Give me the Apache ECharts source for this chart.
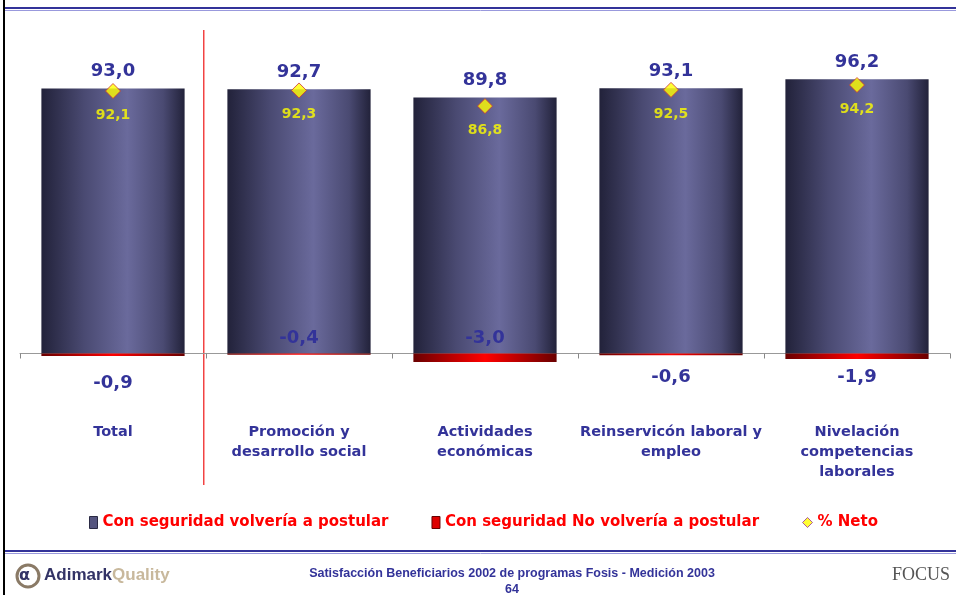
<!DOCTYPE html>
<html><head><meta charset="utf-8">
<script src="https://cdn.jsdelivr.net/npm/echarts@6/dist/echarts.min.js"></script>
<style>html,body{margin:0;padding:0;background:#fff}#c{width:956px;height:595px}</style>
</head><body><div id="c"></div>
<script>
const categories = ['Total', 'Promoción y\ndesarrollo social', 'Actividades\neconómicas', 'Reinservicón laboral y\nempleo', 'Nivelación\ncompetencias\nlaborales'];
const volveria = [93.0, 92.7, 89.8, 93.1, 96.2];
const noVolveria = [-0.9, -0.4, -3.0, -0.6, -1.9];
const neto = [92.1, 92.3, 86.8, 92.5, 94.2];
const seriesNames = ['Con seguridad volvería a postular', 'Con seguridad No volvería a postular', '% Neto'];

const fmt = v => v.toFixed(1).replace('.', ',');
const negOffsets = [29, -16, -19, 23, 21];

const chart = echarts.init(document.getElementById('c'));
const blueGrad = new echarts.graphic.LinearGradient(0, 0, 1, 0, [
  {offset: 0, color: '#22223a'}, {offset: 0.3, color: '#4a4a72'},
  {offset: 0.6, color: '#6a6a9c'}, {offset: 0.85, color: '#4a4a72'}, {offset: 1, color: '#22223a'}]);
const redGrad = new echarts.graphic.LinearGradient(0, 0, 1, 0, [
  {offset: 0, color: '#6a0000'}, {offset: 0.5, color: '#ff0000'}, {offset: 1, color: '#6a0000'}]);
const font = '"DejaVu Sans", Verdana, sans-serif';
const legendText = {color: '#ff0000', fontWeight: 'bold', fontSize: 15, fontFamily: font};

chart.setOption({
  animation: false,
  grid: {left: 20, right: 6, top: 40, height: 342},
  xAxis: {
    type: 'category', data: categories,
    axisLine: {onZero: true, lineStyle: {color: '#999999', width: 1}},
    axisTick: {show: true, inside: false, length: 5, lineStyle: {color: '#888888', width: 1}},
    axisLabel: {margin: 40, verticalAlign: 'top', lineHeight: 20, color: '#333399', fontWeight: 'bold', fontSize: 14.5, fontFamily: font, interval: 0}
  },
  yAxis: {type: 'value', min: -10, max: 110, show: false, splitLine: {show: false}},
  legend: [{
    bottom: 60, left: 84, itemGap: 43, itemWidth: 8, itemHeight: 12,
    textStyle: legendText,
    data: [
      {name: seriesNames[0], icon: 'rect', itemStyle: {color: '#55557f', borderColor: '#2a2a44', borderWidth: 1}},
      {name: seriesNames[1], icon: 'rect', itemStyle: {color: '#dd0000', borderColor: '#660000', borderWidth: 1}}
    ]
  }, {
    bottom: 60, left: 797, itemWidth: 10, itemHeight: 10,
    textStyle: legendText,
    data: [{name: seriesNames[2], icon: 'diamond', itemStyle: {color: '#ffff00', borderColor: '#993399', borderWidth: 1}}]
  }],
  series: [
    {name: seriesNames[0], type: 'bar', data: volveria, barWidth: '77%', barGap: '-100%',
     itemStyle: {color: blueGrad},
     label: {show: true, position: 'top', distance: 8, color: '#333399', fontWeight: 'bold', fontSize: 18, fontFamily: font, formatter: p => fmt(p.value)}},
    {name: seriesNames[1], type: 'bar', barWidth: '77%',
     data: noVolveria.map((v, i) => ({value: v, label: {offset: [0, negOffsets[i]]}})),
     itemStyle: {color: redGrad},
     label: {show: true, position: 'inside', color: '#333399', fontWeight: 'bold', fontSize: 18, fontFamily: font, formatter: p => fmt(p.value)}},
    {name: seriesNames[2], type: 'scatter', data: neto, symbol: 'diamond', symbolSize: 15,
     itemStyle: {color: '#ffff00', borderColor: '#cc3333', borderWidth: 1},
     label: {show: true, position: 'bottom', distance: 9, color: '#ffff00', fontWeight: 'bold', fontSize: 14, fontFamily: font, formatter: p => fmt(p.value)}}
  ],
  graphic: [
    {type: 'line', shape: {x1: 4, y1: 0, x2: 4, y2: 595}, style: {stroke: '#000', lineWidth: 2}},
    {type: 'line', shape: {x1: 5, y1: 8, x2: 956, y2: 8}, style: {stroke: '#333399', lineWidth: 2}},
    {type: 'line', shape: {x1: 5, y1: 10.5, x2: 956, y2: 10.5}, style: {stroke: '#9999dd', lineWidth: 1}},
    {type: 'rect', shape: {x: 203, y: 30, width: 1, height: 455}, style: {fill: '#ee4444'}},
    {type: 'rect', shape: {x: 204, y: 30, width: 1, height: 455}, style: {fill: '#ffa0a0'}},
    {type: 'line', shape: {x1: 5, y1: 551, x2: 956, y2: 551}, style: {stroke: '#333399', lineWidth: 2}},
    {type: 'line', shape: {x1: 5, y1: 553.5, x2: 956, y2: 553.5}, style: {stroke: '#9999dd', lineWidth: 1}},
    {type: 'text', x: 512, y: 566, style: {text: 'Satisfacción Beneficiarios 2002 de programas Fosis - Medición 2003\n64', align: 'center', textAlign: 'center', fill: '#333399', font: 'bold 12.5px "Liberation Sans", Arial, sans-serif', lineHeight: 16}},
    {type: 'circle', shape: {cx: 28, cy: 576, r: 11}, style: {fill: '#fff', stroke: '#8a7a66', lineWidth: 3}},
    {type: 'text', left: 19, top: 568, style: {text: 'α', fill: '#333366', font: 'bold 16px "DejaVu Sans"'}},
    {type: 'text', left: 44, top: 567, style: {rich: {a: {fill: '#333366', font: 'bold 17px "Liberation Sans Narrow", "Liberation Sans", sans-serif'}, b: {fill: '#c8b89c', font: 'bold 17px "Liberation Sans Narrow", "Liberation Sans", sans-serif'}}, text: '{a|Adimark}{b|Quality}'}},
    {type: 'text', right: 6, top: 566, style: {text: 'FOCUS', fill: '#555', font: '18px "Liberation Serif", serif'}}
  ]
});
</script></body></html>
